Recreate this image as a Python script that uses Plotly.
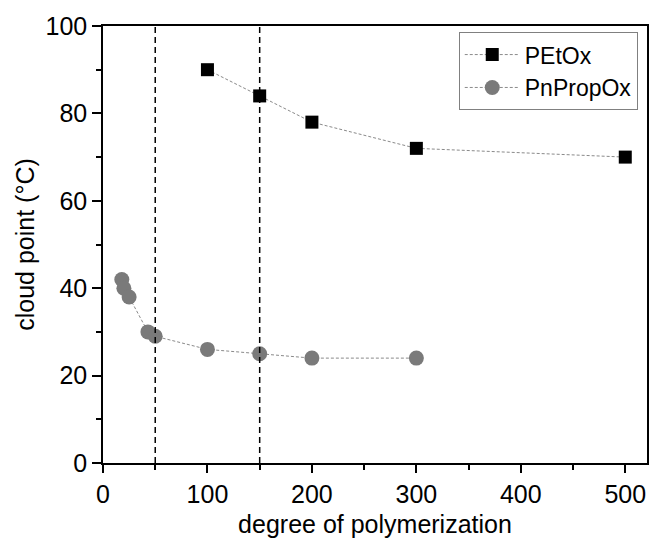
import plotly.graph_objects as go

petox_dp = [100, 150, 200, 300, 500]
petox_cp = [90, 84, 78, 72, 70]
pnprop_dp = [18, 20, 25, 43, 50, 100, 150, 200, 300]
pnprop_cp = [42, 40, 38, 30, 29, 26, 25, 24, 24]
vlines_x = [50, 150]

FONT = "Liberation Sans, Arial, sans-serif"
FS = 25

fig = go.Figure()
fig.add_trace(go.Scatter(
    x=petox_dp, y=petox_cp, name="PEtOx", mode="lines+markers",
    line=dict(color="#8a8a8a", width=1, dash="3px,2px"),
    marker=dict(symbol="square", size=13, color="black"),
))
fig.add_trace(go.Scatter(
    x=pnprop_dp, y=pnprop_cp, name="PnPropOx", mode="lines+markers",
    line=dict(color="#8a8a8a", width=1, dash="3px,2px"),
    marker=dict(symbol="circle", size=15, color="#7a7a7a"),
))
for xv in vlines_x:
    fig.add_shape(type="line", x0=xv, x1=xv, y0=0, y1=100, xref="x", yref="y",
                  line=dict(color="black", width=1.5, dash="6px,4px"))

fig.update_layout(
    width=650, height=541,
    margin=dict(l=103, r=3, t=26, b=78),
    paper_bgcolor="white", plot_bgcolor="white",
    font=dict(family=FONT, size=FS, color="black"),
    showlegend=True,
    legend=dict(x=0.983, y=0.986, xanchor="right", yanchor="top",
                bordercolor="#808080", borderwidth=1, bgcolor="white",
                font=dict(size=23), tracegroupgap=0, itemwidth=55),
    xaxis=dict(range=[0, 520.8], tickvals=[0, 100, 200, 300, 400, 500], automargin=False,
               showgrid=False, zeroline=False, showline=True, linecolor="black", linewidth=1.5,
               mirror=True, ticks="outside", ticklen=8, tickwidth=1.5, tickcolor="black",
               minor=dict(tickvals=[50, 150, 250, 350, 450], ticks="outside", ticklen=5, tickwidth=1.5, tickcolor="black"),
               title=dict(text="degree of polymerization", font=dict(size=FS), standoff=9)),
    yaxis=dict(range=[0, 100], tickvals=[0, 20, 40, 60, 80, 100], automargin=False,
               showgrid=False, zeroline=False, showline=True, linecolor="black", linewidth=1.5,
               mirror=True, ticks="outside", ticklen=9, tickwidth=1.5, tickcolor="black",
               minor=dict(tickvals=[10, 30, 50, 70, 90], ticks="outside", ticklen=5, tickwidth=1.5, tickcolor="black"),
               title=dict(text="cloud point (°C)", font=dict(size=FS), standoff=4)),
)
fig.write_html("out.html", config={"displayModeBar": False},
               post_script="document.body.style.margin='0';document.body.style.padding='0';document.body.style.overflow='hidden';")
